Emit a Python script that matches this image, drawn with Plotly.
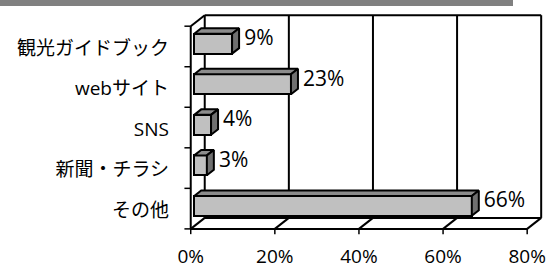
import plotly.graph_objects as go

# ---- data ----
categories = ["観光ガイドブック", "webサイト", "SNS", "新聞・チラシ", "その他"]
values = [9, 23, 4, 3, 66]
value_labels = ["9%", "23%", "4%", "3%", "66%"]
x_ticks = [0, 20, 40, 60, 80]
x_tick_labels = ["0%", "20%", "40%", "60%", "80%"]

# ---- geometry (data units) ----
n = len(categories)
centers = [n - 1 - i + 0.5 for i in range(n)]
XMAX = x_ticks[-1]
DX, DY = 3.33, 0.271          # depth of the 3D box
fx, fy = 0.25 * DX, 0.25 * DY  # bar front face depth
bdx, bdy = 0.5 * DX, 0.5 * DY  # bar thickness in depth
BAR_W = 0.49

W, H = 547, 266
ML, MR, MT, MB = 184, 3, 12, 29
XR = [-1.6, 84]
YR = [-0.2, 5.35]

FONT = "Open Sans, Noto Sans CJK JP, sans-serif"
FRONT, TOP, SIDE = "#c0c0c0", "#8c8c8c", "#707070"

fig = go.Figure()

shapes = []


def seg(x0, y0, x1, y1, w=2):
    shapes.append(dict(type="line", xref="x", yref="y", x0=x0, y0=y0, x1=x1, y1=y1,
                       line=dict(color="black", width=w), layer="below"))


# back wall
seg(DX, DY, DX, n + DY)
seg(DX, n + DY, XMAX + DX, n + DY)
seg(XMAX + DX, DY, XMAX + DX, n + DY)
for t in x_ticks[1:-1]:
    seg(t + DX, DY, t + DX, n + DY)
# floor
seg(0, 0, XMAX, 0)
seg(DX, DY, XMAX + DX, DY)
for t in x_ticks:
    seg(t, 0, t + DX, DY)
    seg(t, 0, t, -0.13, 1.5)
# left wall
seg(0, 0, 0, n)
seg(0, n, DX, n + DY)
for b in range(n + 1):
    seg(-1.5, b, 0, b, 1.5)

# header band
pw = W - ML - MR
ph = H - MT - MB
shapes.append(dict(type="rect", xref="paper", yref="paper",
                   x0=-ML / pw, x1=(513 - ML) / pw,
                   y0=1 + (MT - 6) / ph, y1=1 + MT / ph,
                   fillcolor="#808080", line=dict(width=0), layer="above"))

# front faces of the bars
fig.add_trace(go.Bar(
    x=values, y=[c + fy for c in centers], base=fx, orientation="h", width=BAR_W,
    marker=dict(color=FRONT, line=dict(color="black", width=2)),
    hoverinfo="skip", showlegend=False))

# top and side faces
for v, c in zip(values, centers):
    x0 = fx
    x1 = fx + v
    yb = c + fy - BAR_W / 2
    yt = c + fy + BAR_W / 2
    fig.add_trace(go.Scatter(
        x=[x0, x1, x1 + bdx, x0 + bdx, x0], y=[yt, yt, yt + bdy, yt + bdy, yt],
        mode="lines", fill="toself", fillcolor=TOP,
        line=dict(color="black", width=2), hoverinfo="skip", showlegend=False))
    fig.add_trace(go.Scatter(
        x=[x1, x1, x1 + bdx, x1 + bdx, x1], y=[yb, yt, yt + bdy, yb + bdy, yb],
        mode="lines", fill="toself", fillcolor=SIDE,
        line=dict(color="black", width=2), hoverinfo="skip", showlegend=False))

# data labels
fig.add_trace(go.Scatter(
    x=[fx + v + bdx + 1.2 for v in values],
    y=[c + fy + bdy / 2 + 0.03 for c in centers],
    mode="text", text=value_labels, textposition="middle right",
    textfont=dict(family=FONT, size=21, color="#000000"),
    hoverinfo="skip", showlegend=False, cliponaxis=False))

fig.update_layout(
    width=W, height=H,
    margin=dict(l=ML, r=MR, t=MT, b=MB, pad=0, autoexpand=False),
    paper_bgcolor="white", plot_bgcolor="white",
    shapes=shapes,
    xaxis=dict(range=XR, showgrid=False, zeroline=False, showline=False,
               automargin=False,
               tickmode="array", tickvals=x_ticks, ticktext=x_tick_labels,
               ticks="", ticklabelstandoff=6,
               tickfont=dict(family=FONT, size=19, color="#000000"), fixedrange=True),
    yaxis=dict(range=YR, showgrid=False, zeroline=False, showline=False,
               automargin=False,
               tickmode="array", tickvals=[c - 0.04 for c in centers], ticktext=categories,
               ticks="", ticklabelstandoff=14,
               tickfont=dict(family=FONT, size=19, color="#000000"), fixedrange=True),
    bargap=0,
)

fig.write_html("out.html", config={"displayModeBar": False},
               post_script="document.body.style.margin='0px';document.body.style.overflow='hidden';")
